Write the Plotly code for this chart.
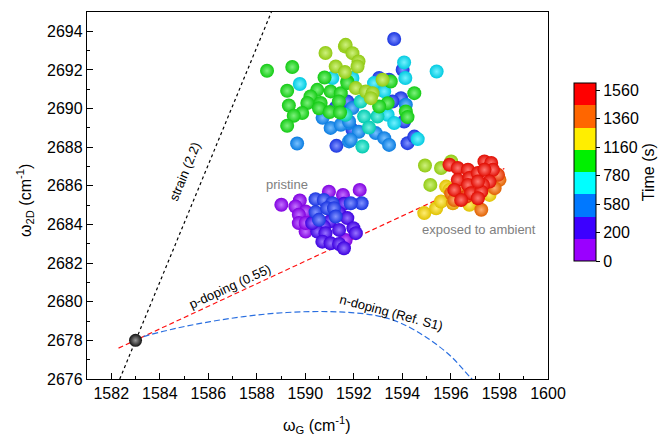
import numpy as np
import plotly.graph_objects as go

# ---------------- data ----------------
# upper cloud (intermediate exposure times)
up_x = [1590.83, 1591.63, 1588.42, 1589.46, 1589.77, 1589.25, 1591.25, 1591.63, 1590.79, 1591.11,
        1591.73, 1590.49, 1590.21, 1591.04, 1591.46, 1589.32, 1590.08, 1590.63, 1591.38, 1589.87,
        1589.52, 1590.56, 1591.00, 1591.43, 1589.25, 1589.66, 1591.28, 1591.80, 1591.79, 1591.66,
        1591.25, 1590.71, 1591.04, 1591.46, 1592.20,
        1593.66, 1591.66, 1591.94, 1592.19, 1592.15, 1594.07, 1594.01, 1595.41, 1594.12, 1593.04,
        1593.45, 1593.18, 1593.52, 1591.94, 1591.73, 1592.08, 1592.83, 1593.25, 1592.49, 1592.77,
        1592.70, 1594.49, 1593.94, 1593.59, 1594.14, 1593.39, 1592.28, 1591.94, 1593.04, 1594.14,
        1594.21, 1591.73, 1592.42, 1592.97, 1593.39, 1593.66, 1594.07, 1591.80, 1591.94, 1592.62,
        1592.90, 1593.25, 1593.45, 1591.87, 1592.35, 1594.21, 1594.49, 1594.63]
up_y = [2692.88, 2693.22, 2691.96, 2692.15, 2691.27, 2690.92, 2692.18, 2691.89, 2691.61, 2691.58,
        2691.40, 2690.97, 2690.63, 2690.89, 2690.80, 2690.16, 2690.29, 2690.29, 2690.37, 2689.77,
        2689.63, 2690.02, 2689.82, 2689.80, 2689.11, 2688.19, 2688.07, 2688.30, 2689.25, 2689.68,
        2690.04, 2689.52, 2689.00, 2689.16, 2688.80,
        2693.60, 2693.30, 2692.87, 2692.44, 2692.18, 2692.39, 2692.01, 2691.92, 2691.58, 2691.58,
        2691.49, 2691.49, 2691.40, 2691.58, 2691.32, 2691.06, 2691.32, 2690.89, 2690.89, 2690.80,
        2690.54, 2690.80, 2690.54, 2690.37, 2690.20, 2690.28, 2690.37, 2690.03, 2690.11, 2689.85,
        2689.56, 2690.37, 2689.59, 2689.59, 2689.68, 2689.25, 2689.33, 2689.33, 2688.90, 2689.02,
        2688.73, 2688.47, 2688.12, 2688.38, 2688.04, 2688.21, 2688.55, 2688.42]
up_t = [1100, 1100, 1000, 1000, 780, 1000, 1100, 1100, 1000, 780,
        1000, 1000, 1000, 1000, 1000, 1000, 1000, 1000, 1000, 1000,
        1000, 1000, 1000, 1000, 1000, 600, 420, 600, 600, 870,
        420, 600, 600, 600, 600,
        420, 1100, 1100, 1100, 1100, 780, 420, 780, 780, 420,
        420, 1100, 1000, 780, 1000, 1100, 780, 780, 1100, 1100,
        1100, 1000, 420, 420, 600, 1000, 870, 600, 1000, 1000,
        1000, 420, 870, 870, 780, 780, 420, 600, 420, 870,
        600, 600, 600, 600, 870, 420, 420, 780]

# pristine cluster
pr_x = [1589.01, 1589.77, 1589.59, 1590.97, 1591.55, 1592.24, 1592.32, 1591.87, 1590.42, 1590.76,
        1591.11, 1591.59, 1590.01, 1590.42, 1590.90, 1591.18, 1591.39, 1590.56, 1591.25, 1589.73,
        1589.73, 1590.01, 1591.73, 1591.00, 1590.76, 1591.98, 1592.08, 1591.39, 1590.49, 1590.83,
        1590.70, 1591.04, 1591.66, 1591.39, 1591.59, 1590.01, 1590.28]
pr_y = [2685.02, 2685.24, 2684.93, 2685.70, 2685.53, 2685.79, 2685.10, 2685.10, 2685.31, 2685.27,
        2685.10, 2685.07, 2684.67, 2684.64, 2684.84, 2684.84, 2684.59, 2684.24, 2684.41, 2684.50,
        2684.07, 2683.63, 2684.33, 2684.15, 2683.89, 2683.81, 2683.55, 2683.72, 2683.63, 2683.55,
        2683.11, 2683.03, 2683.20, 2682.99, 2682.77, 2684.08, 2684.07]
pr_t = [60, 60, 60, 60, 60, 60, 420, 420, 420, 420,
        420, 250, 60, 420, 420, 420, 250, 420, 420, 60,
        60, 60, 250, 250, 250, 250, 250, 250, 250, 250,
        250, 250, 60, 250, 250, 60, 250]

# exposed-to-ambient cluster
ex_x = [1594.93, 1595.59, 1596.01, 1595.15, 1594.90, 1595.39, 1595.80, 1595.59, 1596.08, 1596.01,
        1596.76, 1597.25, 1597.59, 1596.14, 1595.94, 1596.28, 1596.70, 1596.28, 1596.76, 1597.11,
        1597.38, 1597.66, 1597.73, 1597.94, 1597.38, 1597.59, 1598.00, 1597.32, 1596.70, 1596.42,
        1596.14, 1596.83, 1597.25, 1597.11, 1596.63, 1596.42, 1597.80, 1595.94, 1597.11]
ex_y = [2687.05, 2686.92, 2687.26, 2686.05, 2684.59, 2684.84, 2685.96, 2685.19, 2685.10, 2685.62,
        2685.02, 2684.76, 2685.53, 2685.27, 2687.09, 2686.92, 2686.83, 2686.31, 2686.40, 2686.66,
        2687.26, 2687.18, 2686.83, 2686.57, 2686.83, 2686.22, 2686.31, 2686.05, 2686.05, 2685.96,
        2685.79, 2685.62, 2685.70, 2685.36, 2685.45, 2685.27, 2685.88, 2685.79, 2686.22]
ex_t = [1100, 1100, 1100, 1100, 1200, 1200, 1200, 1200, 1280, 1380,
        1200, 1380, 1200, 1380, 1540, 1540, 1540, 1540, 1540, 1540,
        1540, 1540, 1540, 1460, 1540, 1540, 1380, 1540, 1540, 1380,
        1540, 1540, 1540, 1540, 1460, 1540, 1380, 1200, 1540]

# reference (undoped, unstrained) point
ref_x = [1583.0]
ref_y = [2678.0]

# guide lines
strain_x = [1582.35, 1588.60]
strain_y = [2676.0, 2695.0]
pdop_x = [1582.30, 1598.20]
pdop_y = [2677.60, 2686.90]
ndop_x = [1583.0, 1583.25, 1584.70, 1586.08, 1587.46, 1588.84, 1590.22, 1591.59, 1592.97,
          1593.94, 1595.04, 1596.01, 1596.77, 1597.10]
ndop_y = [2678.0, 2678.16, 2678.63, 2678.97, 2679.23, 2679.41, 2679.49, 2679.46, 2679.27,
          2678.89, 2678.11, 2677.16, 2676.12, 2675.70]

# colorbar
cb_colors = ["#9a00ff", "#3c00ff", "#0078ff", "#00ffff", "#00f000", "#ffee00", "#ff6600", "#ff0000"]
cb_ticktext = ["0", "200", "580", "780", "1160", "1360", "1560"]
cb_tickvals = [0.0, 0.16, 0.32, 0.48, 0.64, 0.80, 0.96]

# ball colour stops (time -> colour)
stop_t = [0, 60, 250, 420, 600, 780, 870, 1000, 1100, 1200, 1280, 1380, 1460, 1560]
stop_c = ["#9a00ff", "#9200ff", "#4400ff", "#1e3cff", "#0a8cff", "#00e6ff", "#00e6c8", "#14e614",
          "#a5e614", "#ffdc00", "#ffb400", "#ff6e00", "#ff3c00", "#ff0000"]


def hex2rgb(h):
    h = h.lstrip("#")
    return np.array([int(h[i:i + 2], 16) for i in (0, 2, 4)], dtype=float)


stop_rgb = np.array([hex2rgb(c) for c in stop_c])


def tcolor(t):
    return np.array([np.interp(t, stop_t, stop_rgb[:, k]) for k in range(3)])


def css(rgb):
    r, g, b = [int(round(min(255, max(0, v)))) for v in rgb]
    return f"rgb({r},{g},{b})"


all_x = np.array(up_x + pr_x + ex_x)
all_y = np.array(up_y + pr_y + ex_y)
all_t = np.array(up_t + pr_t + ex_t, dtype=float)
order = np.argsort(all_t, kind="stable")
all_x, all_y, all_t = all_x[order], all_y[order], all_t[order]

edge_cols = []
center_cols = []
for t in all_t:
    base = tcolor(t)
    edge_cols.append(css(base * 0.88))
    center_cols.append(css(base + (255 - base) * 0.45))

fig = go.Figure()

FONT = "Liberation Sans, Arial, sans-serif"

fig.add_trace(go.Scatter(x=strain_x, y=strain_y, mode="lines",
                         line=dict(color="black", width=1.2, dash="3px,3px"),
                         hoverinfo="skip", showlegend=False))
fig.add_trace(go.Scatter(x=pdop_x, y=pdop_y, mode="lines",
                         line=dict(color="#ff1010", width=1.2, dash="5px,3px"),
                         hoverinfo="skip", showlegend=False))
fig.add_trace(go.Scatter(x=ndop_x, y=ndop_y, mode="lines", line_shape="spline",
                         line=dict(color="#2a6fe0", width=1.2, dash="6px,3px"),
                         hoverinfo="skip", showlegend=False))

fig.add_trace(go.Scatter(x=all_x, y=all_y, mode="markers",
                         marker=dict(size=14, color=edge_cols, line=dict(width=0),
                                     gradient=dict(type="radial", color=center_cols)),
                         showlegend=False))
fig.add_trace(go.Scatter(x=ref_x, y=ref_y, mode="markers",
                         marker=dict(size=13, color="#111111", line=dict(width=0),
                                     gradient=dict(type="radial", color="#9a9a9a")),
                         showlegend=False))

# discrete colour bar
n = len(cb_colors)
cscale = []
for i, c in enumerate(cb_colors):
    cscale.append([i / n, c])
    cscale.append([(i + 1) / n, c])
fig.add_trace(go.Scatter(x=[None], y=[None], mode="markers", showlegend=False,
                         marker=dict(color=[0], cmin=0, cmax=1, colorscale=cscale, showscale=True,
                                     colorbar=dict(x=1.056, xanchor="left", y=0.5635, yanchor="middle",
                                                   xpad=0, ypad=0,
                                                   thickness=22, len=178, lenmode="pixels",
                                                   outlinewidth=1, outlinecolor="black",
                                                   tickvals=cb_tickvals, ticktext=cb_ticktext,
                                                   ticks="outside", ticklen=4, tickcolor="black",
                                                   tickfont=dict(size=16, family=FONT, color="black"),
                                                   title=dict(text="Time (s)", side="right",
                                                              font=dict(size=16, family=FONT, color="black"))))))

axis_common = dict(showline=True, mirror=True, linecolor="black", linewidth=1.3,
                   showgrid=False, zeroline=False, ticks="inside", ticklen=6, tickwidth=1.2,
                   tickcolor="black", dtick=2, automargin=False,
                   tickfont=dict(size=16, family=FONT, color="black"),
                   minor=dict(ticks="inside", ticklen=3, tickwidth=1.2, tickcolor="black", dtick=1,
                              showgrid=False))

fig.update_layout(
    width=670, height=437,
    margin=dict(l=87, r=122, t=12, b=58),
    plot_bgcolor="white", paper_bgcolor="white",
    font=dict(family=FONT, color="black"),
    xaxis=dict(range=[1581, 1600], tick0=1582, **axis_common),
    yaxis=dict(range=[2676, 2695], tick0=2676, **axis_common),
)

title_font = dict(size=16, family=FONT, color="black")
fig.add_annotation(xref="paper", yref="paper", x=0.499, y=-0.125, yanchor="middle",
                   text="ω<sub>G</sub> (cm<sup>-1</sup>)", showarrow=False, font=title_font)
fig.add_annotation(xref="paper", yref="paper", x=-0.1345, y=0.488, xanchor="center",
                   text="ω<sub>2D</sub> (cm<sup>-1</sup>)", showarrow=False, textangle=-90, font=title_font)

ann_font = dict(size=13, family=FONT, color="black")
gray_font = dict(size=13, family=FONT, color="#808080")
fig.add_annotation(x=1585.04, y=2686.73, text="strain (2.2)", showarrow=False, textangle=-67.8, font=ann_font)
fig.add_annotation(x=1586.90, y=2680.77, text="p-doping (0.55)", showarrow=False, textangle=-24.6, font=ann_font)
fig.add_annotation(x=1593.52, y=2679.42, text="n-doping (Ref. S1)", showarrow=False, textangle=15, font=ann_font)
fig.add_annotation(x=1589.26, y=2686.05, text="pristine", showarrow=False, font=gray_font)
fig.add_annotation(x=1597.16, y=2683.72, text="exposed to ambient", showarrow=False, font=gray_font)

fig.write_html("out.html")
